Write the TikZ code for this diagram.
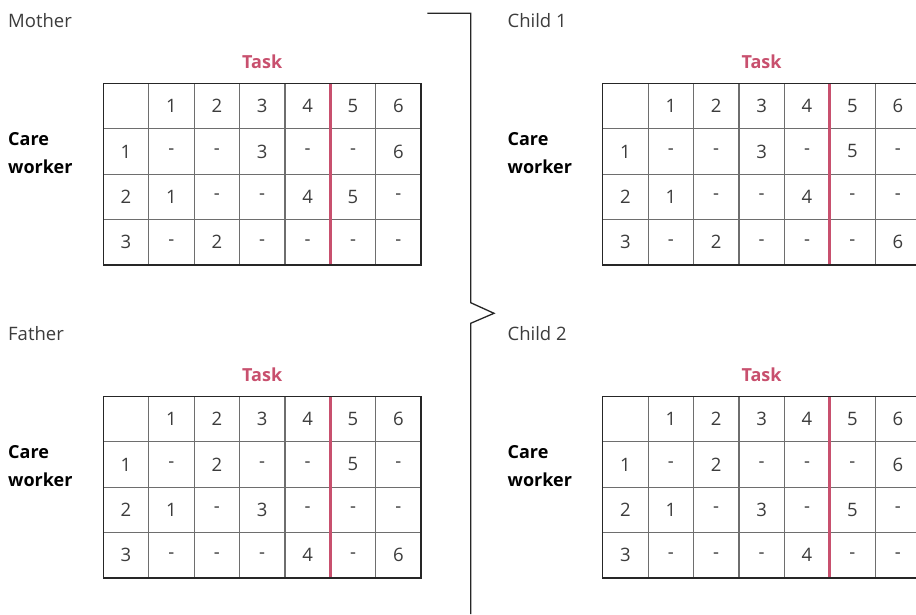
\documentclass[tikz,border=0pt]{standalone}
\usepackage{fontspec}
\setmainfont{Open Sans}
\definecolor{rosered}{HTML}{C8506E}
\definecolor{txtgray}{HTML}{3C3C3C}
\definecolor{gridgray}{HTML}{6E6E6E}
\newcommand\drawtable[7]{%
 \begin{scope}[shift={(#2,#3)}]
  \node[plain,anchor=base west] (#1-lbl) at (-95.3,-56.3) {#4};
  \node[boldtxt,text=rosered,anchor=base] (#1-task) at (158.9,-15.3) {Task};
  \node[boldtxt,anchor=base west] (#1-care) at (-95.3,62) {Care};
  \node[boldtxt,anchor=base west] (#1-worker) at (-95.3,89.7) {worker};
  \foreach \k in {1,...,6} \draw[innerl] (\k*45.4,0) -- (\k*45.4,181.6);
  \foreach \k in {1,2,3} \draw[innerl] (0,\k*45.4) -- (317.8,\k*45.4);
  \draw[redl] (5*45.4,0) -- (5*45.4,181.6);
  \draw[outerl] (0,0) rectangle (317.8,181.6);
  \foreach \j in {1,...,6} \node[cell] (#1-h\j) at ({(\j+0.5)*45.4},22.7) {\j};
  \foreach \i in {1,2,3} \node[cell] (#1-r\i) at (22.7,{(\i+0.5)*45.4}) {\i};
  \foreach \v [count=\j] in {#5} \node[cell] (#1-a\j) at ({(\j+0.5)*45.4},{1.5*45.4}) {\v};
  \foreach \v [count=\j] in {#6} \node[cell] (#1-b\j) at ({(\j+0.5)*45.4},{2.5*45.4}) {\v};
  \foreach \v [count=\j] in {#7} \node[cell] (#1-c\j) at ({(\j+0.5)*45.4},{3.5*45.4}) {\v};
 \end{scope}}
\begin{document}
\begin{tikzpicture}[x=1pt,y=-1pt,
  plain/.style={inner sep=0pt,text=txtgray,font=\fontsize{18.5}{21}\selectfont},
  boldtxt/.style={inner sep=0pt,text=black,font=\fontsize{18}{21}\selectfont\bfseries},
  cell/.style={inner sep=0pt,text=txtgray,font=\fontsize{18.5}{21}\selectfont},
  innerl/.style={draw=gridgray,line width=1.2pt},
  outerl/.style={draw=black!85,line width=1.3pt},
  redl/.style={draw=rosered,line width=2.6pt},
  bracketl/.style={draw=black!85,line width=1.3pt}]
\useasboundingbox (0,0) rectangle (916,614);
\fill[white] (0,0) rectangle (916,614);
\drawtable{m}{103.3}{83.3}{Mother}{-,-,3,-,-,6}{1,-,-,4,5,-}{-,2,-,-,-,-}
\drawtable{c1}{602.7}{83.3}{Child 1}{-,-,3,-,5,-}{1,-,-,4,-,-}{-,2,-,-,-,6}
\drawtable{f}{103.3}{396.3}{Father}{-,2,-,-,5,-}{1,-,3,-,-,-}{-,-,-,4,-,6}
\drawtable{c2}{602.7}{396.3}{Child 2}{-,2,-,-,-,6}{1,-,3,-,5,-}{-,-,-,4,-,-}
\coordinate (bs) at (427.3,13.3);
\coordinate (bc) at (470.7,13.3);
\coordinate (b1) at (470.7,302.7);
\coordinate (bt) at (494,313.3);
\coordinate (b2) at (470.7,323.3);
\coordinate (be) at (470.7,614);
\draw[bracketl] (bs) -- (bc) -- (b1) -- (bt) -- (b2) -- (be);
\end{tikzpicture}
\end{document}
